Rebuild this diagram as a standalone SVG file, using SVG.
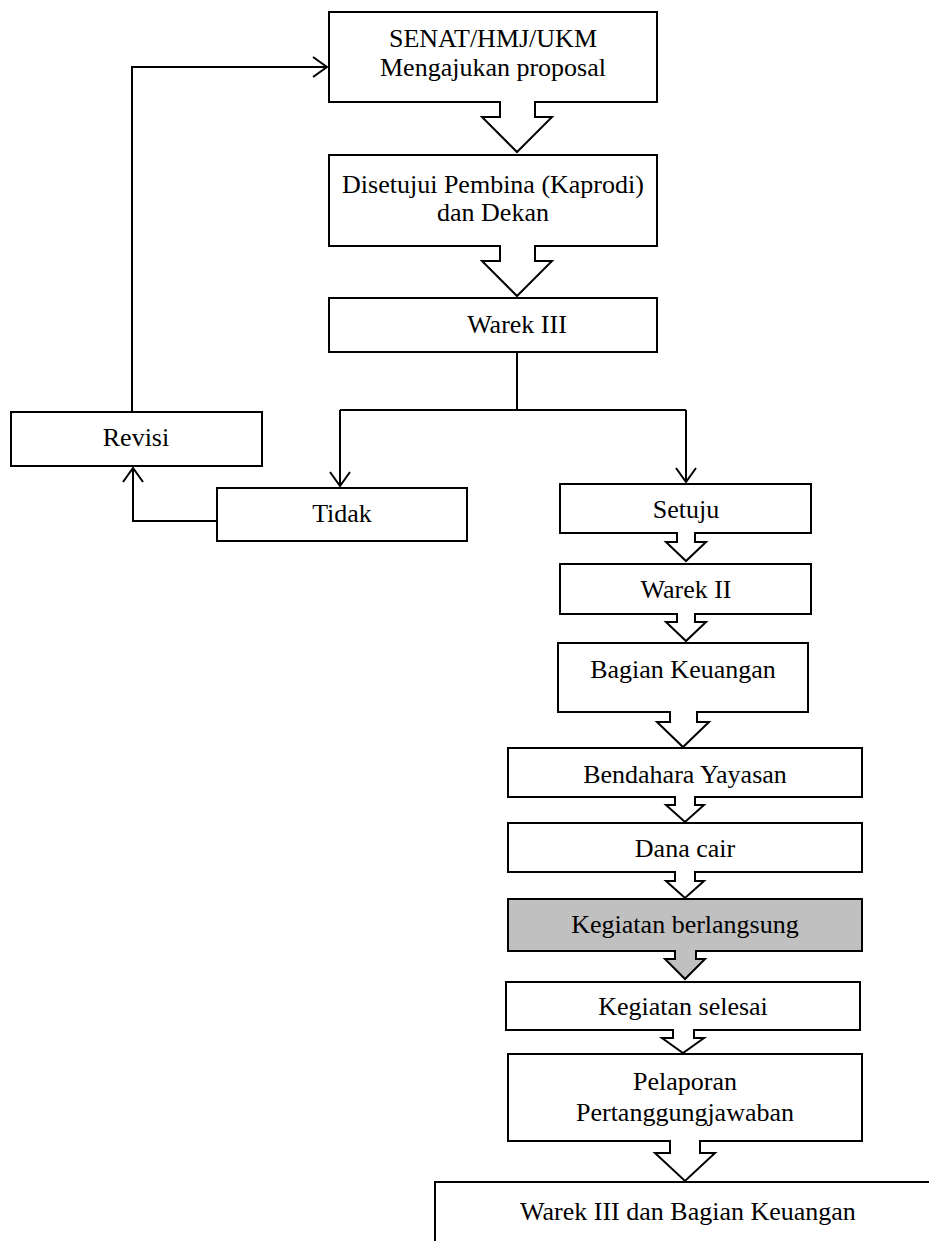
<svg xmlns="http://www.w3.org/2000/svg" width="929" height="1241" viewBox="0 0 929 1241">
<defs>
<style>
.box{fill:#fff;stroke:#000;stroke-width:2}
.gray{fill:#c0c0c0;stroke:#000;stroke-width:2}
.t{font-family:"Liberation Serif","Times New Roman",serif;font-size:26px;fill:#000;text-anchor:middle}
.ln{fill:none;stroke:#000;stroke-width:2}
.blk{fill:#fff;stroke:#000;stroke-width:2;stroke-linejoin:miter}
.blkg{fill:#c0c0c0;stroke:#000;stroke-width:2;stroke-linejoin:miter}
</style>
<marker id="ah" viewBox="0 0 16 22" refX="15" refY="11" markerWidth="16" markerHeight="22" markerUnits="userSpaceOnUse" orient="auto">
<path d="M1,1 L15,11 L1,21" fill="none" stroke="#000" stroke-width="2"/>
</marker>
</defs>
<rect width="929" height="1241" fill="#fff"/>

<g id="n-senat"><rect class="box" x="329" y="12" width="328" height="90"/><text class="t" x="493" y="47">SENAT/HMJ/UKM</text><text class="t" x="493" y="76">Mengajukan proposal</text></g>
<g id="n-disetujui"><rect class="box" x="329" y="155" width="328" height="91"/><text class="t" x="493" y="193">Disetujui Pembina (Kaprodi)</text><text class="t" x="493" y="221">dan Dekan</text></g>
<g id="n-warek3"><rect class="box" x="329" y="298" width="328" height="54"/><text class="t" x="517" y="333">Warek III</text></g>
<g id="n-revisi"><rect class="box" x="11" y="412" width="251" height="54"/><text class="t" x="136" y="446">Revisi</text></g>
<g id="n-tidak"><rect class="box" x="217" y="488" width="250" height="53"/><text class="t" x="342" y="522">Tidak</text></g>
<g id="n-setuju"><rect class="box" x="560" y="484" width="251" height="49"/><text class="t" x="686" y="518">Setuju</text></g>
<g id="n-warek2"><rect class="box" x="560" y="564" width="251" height="50"/><text class="t" x="686" y="598">Warek II</text></g>
<g id="n-keuangan"><rect class="box" x="558" y="643" width="250" height="69"/><text class="t" x="683" y="678">Bagian Keuangan</text></g>
<g id="n-bendahara"><rect class="box" x="508" y="748" width="354" height="49"/><text class="t" x="685" y="783">Bendahara Yayasan</text></g>
<g id="n-dana"><rect class="box" x="508" y="823" width="354" height="49"/><text class="t" x="685" y="857">Dana cair</text></g>
<g id="n-berlangsung"><rect class="gray" x="508" y="899" width="354" height="52"/><text class="t" x="685" y="933">Kegiatan berlangsung</text></g>
<g id="n-selesai"><rect class="box" x="506" y="982" width="354" height="48"/><text class="t" x="683" y="1015">Kegiatan selesai</text></g>
<g id="n-pelaporan"><rect class="box" x="508" y="1054" width="354" height="87"/><text class="t" x="685" y="1090">Pelaporan</text><text class="t" x="685" y="1121">Pertanggungjawaban</text></g>
<g id="n-final"><rect class="box" x="435" y="1182" width="510" height="80"/><text class="t" x="688" y="1220">Warek III dan Bagian Keuangan</text></g>

<g id="connectors">
<path class="blk" d="M500,101 V117 H482 L517,152 L552,117 H535 V101"/>
<path class="blk" d="M500,245 V261 H482 L517,296 L552,261 H535 V245"/>
<path class="blk" d="M677,532 V542 H666 L686,561 L706,542 H695 V532"/>
<path class="blk" d="M677,613 V622 H666 L686,641 L706,622 H695 V613"/>
<path class="blk" d="M670,711 V722 H657 L683,747 L709,722 H697 V711"/>
<path class="blk" d="M675,796 V805 H666 L685,822 L704,805 H695 V796"/>
<path class="blk" d="M675,871 V881 H666 L685,898 L704,881 H695 V871"/>
<path class="blkg" d="M675,950 V959 H665 L685,979 L705,959 H696 V950"/>
<path class="blk" d="M673,1029 V1038 H662 L683,1053 L704,1038 H694 V1029"/>
<path class="blk" d="M670,1140 V1153 H655 L685,1181 L715,1153 H700 V1140"/>
<path class="ln" d="M517,352 V410"/>
<path class="ln" d="M340,410 H686"/>
<path class="ln" d="M340,410 V486" marker-end="url(#ah)"/>
<path class="ln" d="M686,410 V482" marker-end="url(#ah)"/>
<path class="ln" d="M217,521 H133 V468" marker-end="url(#ah)"/>
<path class="ln" d="M132,412 V67 H327" marker-end="url(#ah)"/>
</g>
</svg>
